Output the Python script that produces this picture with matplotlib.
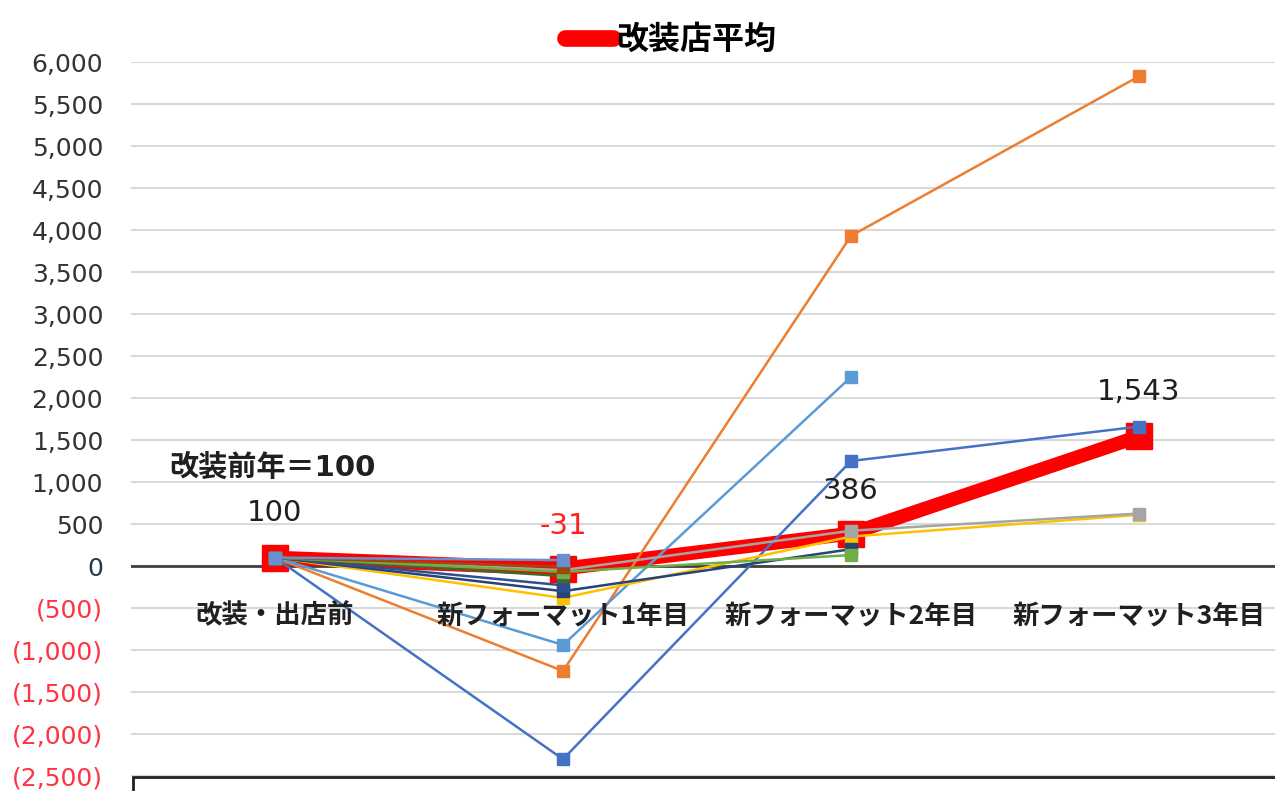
import matplotlib

matplotlib.use("Agg")
import matplotlib.pyplot as plt
import numpy as np
from matplotlib.lines import Line2D
from matplotlib.patches import Rectangle
from matplotlib.ticker import FuncFormatter

JP = ["Noto Sans CJK JP", "DejaVu Sans"]
NUM_JP = ["DejaVu Sans", "Noto Sans CJK JP"]

categories = ["改装・出店前", "新フォーマット1年目", "新フォーマット2年目", "新フォーマット3年目"]
average = [100, -31, 386, 1543]
average_labels = ["100", "-31", "386", "1,543"]
label_colors = ["#202020", "#FF2020", "#202020", "#202020"]

nan = np.nan
store_colors = ["#4472C4", "#ED7D31", "#5B9BD5", "#FFC000", "#A5A5A5", "#264478",
                "#2F4F8F", "#43682B", "#70AD47", "#9E480E", "#6A8FCF"]
store_values = [
    [100, -2300, 1250, 1660],
    [100, -1250, 3930, 5830],
    [100, -940, 2250, nan],
    [100, -380, 350, 610],
    [100, -50, 420, 625],
    [100, -300, 200, nan],
    [100, -230, nan, nan],
    [100, -120, nan, nan],
    [100, -70, 130, nan],
    [100, -10, nan, nan],
    [100, 70, nan, nan],
]

fig = plt.figure(figsize=(12.75, 7.91), dpi=100)
ax = fig.add_axes([131 / 1275, 1 - 776 / 791, 1144 / 1275, 714 / 791])
x = np.arange(len(categories))

# average first so the individual stores sit on top of it
ax.plot(x, average, color="#FF0000", lw=10, marker="s", ms=19, zorder=2,
        solid_joinstyle="miter")
for color, vals in zip(store_colors, store_values):
    ax.plot(x, vals, color=color, lw=1.8, marker="s", ms=9, zorder=3)

ax.set_xlim(-0.5, -0.5 + 1144 / 288)
ax.set_ylim(-2500, 6000)
ax.set_yticks(np.arange(-2500, 6001, 500))
ax.yaxis.set_major_formatter(FuncFormatter(
    lambda v, _: f"({abs(v):,.0f})" if v < 0 else f"{v:,.0f}"))
ax.tick_params(axis="y", length=0, pad=20, labelsize=18, labelcolor="#333333")
for lab, v in zip(ax.get_yticklabels(), ax.get_yticks()):
    if v < 0:
        lab.set_color("#FF3344")
    elif v == 0:
        lab.set_color("#2A3550")
ax.set_xticks([])
ax.grid(axis="y", color="#D9D9D9", lw=1.5, zorder=0)
ax.set_axisbelow(True)
for s in ax.spines.values():
    s.set_visible(False)
ax.axhline(0, color="#404040", lw=2, zorder=1)

for i, cat in enumerate(categories):
    ax.text(i, -595, cat, ha="center", va="center", fontsize=19,
            fontweight="bold", family=JP, color="#202020", zorder=5)

label_y = [630, 476, 893, 2071]
for i, (txt, c) in enumerate(zip(average_labels, label_colors)):
    ax.text(i, label_y[i], txt, ha="center", va="center", fontsize=21,
            color=c, family=["DejaVu Sans"], zorder=5)
ax.text(-0.01, 1170, "改装前年＝100", ha="center", va="center", fontsize=21,
        fontweight="bold", family=NUM_JP, color="#202020", zorder=5)

handle = Line2D([], [], color="#FF0000", lw=12, solid_capstyle="round")
fig.legend([handle], ["改装店平均"], loc="center left",
           bbox_to_anchor=(565 / 1275, 1 - 40 / 791), frameon=False,
           prop={"family": JP, "size": 23, "weight": "bold"},
           handlelength=1.5, handletextpad=0.1, borderpad=0, borderaxespad=0)

fig.patches.append(Rectangle((133 / 1275, -0.1), 1.0, 0.1 + 14 / 791,
                             transform=fig.transFigure, fill=False,
                             edgecolor="#202020", lw=2))

fig.savefig("out.png", dpi=100)
